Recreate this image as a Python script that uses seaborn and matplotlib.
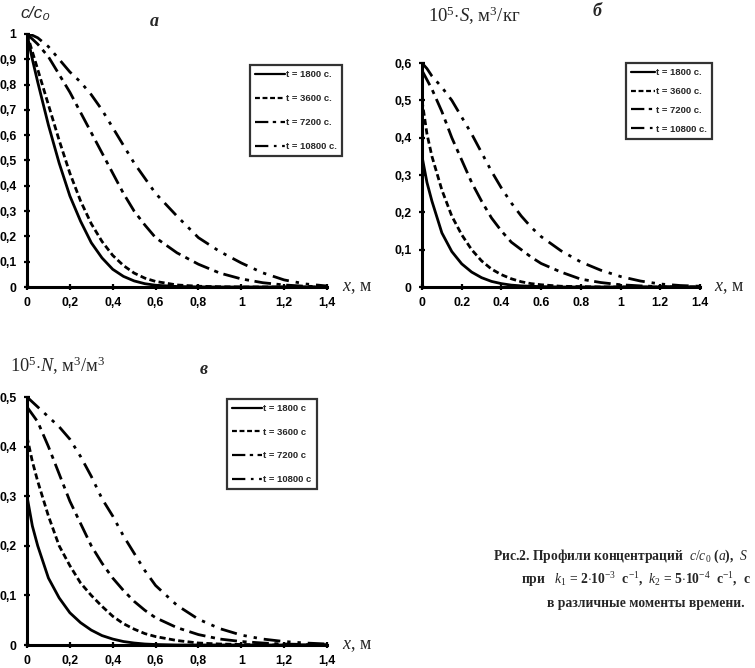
import pandas as pd
import matplotlib
matplotlib.use("Agg")
import matplotlib.pyplot as plt
import seaborn as sns

# общая сетка по x, м
x_grid = [0, 0.025, 0.05, 0.1, 0.15, 0.2, 0.25, 0.3, 0.35, 0.4, 0.45, 0.5, 0.55,
          0.6, 0.7, 0.8, 0.9, 1.0, 1.1, 1.2, 1.3, 1.4]
times = [1800, 3600, 7200, 10800]

# (а) c/c0
a_1800 = [1.0, 0.90, 0.81, 0.64, 0.49, 0.36, 0.26, 0.175, 0.115, 0.07, 0.042, 0.024, 0.013,
          0.007, 0.002, 0.0005, 0, 0, 0, 0, 0, 0]
a_3600 = [1.0, 0.93, 0.86, 0.72, 0.58, 0.45, 0.34, 0.25, 0.18, 0.125, 0.085, 0.055, 0.035,
          0.022, 0.008, 0.003, 0.001, 0, 0, 0, 0, 0]
a_7200 = [1.0, 0.98, 0.96, 0.91, 0.84, 0.77, 0.69, 0.61, 0.53, 0.45, 0.37, 0.30, 0.245,
          0.195, 0.135, 0.09, 0.055, 0.032, 0.017, 0.008, 0.003, 0.001]
a_10800 = [1.0, 0.995, 0.985, 0.95, 0.90, 0.85, 0.81, 0.76, 0.70, 0.63, 0.56, 0.49, 0.43,
           0.37, 0.28, 0.195, 0.14, 0.095, 0.056, 0.028, 0.012, 0.004]

# (б) 10^5*S
b_1800 = [0.35, 0.28, 0.23, 0.145, 0.095, 0.062, 0.04, 0.025, 0.015, 0.009, 0.005, 0.003,
          0.002, 0.001, 0, 0, 0, 0, 0, 0, 0, 0]
b_3600 = [0.50, 0.41, 0.35, 0.26, 0.19, 0.14, 0.10, 0.07, 0.048, 0.033, 0.022, 0.014,
          0.009, 0.006, 0.002, 0.001, 0, 0, 0, 0, 0, 0]
b_7200 = [0.58, 0.555, 0.53, 0.47, 0.40, 0.34, 0.28, 0.23, 0.185, 0.15, 0.12, 0.10,
          0.08, 0.063, 0.04, 0.021, 0.012, 0.006, 0.003, 0.001, 0, 0]
b_10800 = [0.60, 0.585, 0.565, 0.535, 0.50, 0.455, 0.41, 0.36, 0.31, 0.265, 0.225, 0.19,
           0.16, 0.135, 0.097, 0.067, 0.045, 0.028, 0.016, 0.008, 0.004, 0.002]

# (в) 10^5*N
c_1800 = [0.30, 0.24, 0.20, 0.135, 0.095, 0.065, 0.045, 0.03, 0.019, 0.012, 0.007, 0.004,
          0.002, 0.001, 0, 0, 0, 0, 0, 0, 0, 0]
c_3600 = [0.42, 0.37, 0.33, 0.26, 0.20, 0.16, 0.125, 0.10, 0.078, 0.058, 0.043, 0.032,
          0.023, 0.017, 0.009, 0.004, 0.002, 0.001, 0, 0, 0, 0]
c_7200 = [0.48, 0.465, 0.45, 0.40, 0.345, 0.29, 0.245, 0.20, 0.165, 0.135, 0.11, 0.088,
          0.07, 0.055, 0.035, 0.021, 0.012, 0.007, 0.004, 0.002, 0.001, 0]
c_10800 = [0.50, 0.49, 0.48, 0.46, 0.44, 0.415, 0.38, 0.34, 0.295, 0.26, 0.22, 0.185,
           0.15, 0.12, 0.08, 0.052, 0.033, 0.02, 0.012, 0.007, 0.004, 0.002]

x_ticks = [0, 0.2, 0.4, 0.6, 0.8, 1.0, 1.2, 1.4]
x_labels_comma = ["0", "0,2", "0,4", "0,6", "0,8", "1", "1,2", "1,4"]
x_labels_dot = ["0", "0.2", "0.4", "0.6", "0.8", "1", "1.2", "1.4"]
a_yticks = [0, 0.1, 0.2, 0.3, 0.4, 0.5, 0.6, 0.7, 0.8, 0.9, 1.0]
a_ylabels = ["0", "0,1", "0,2", "0,3", "0,4", "0,5", "0,6", "0,7", "0,8", "0,9", "1"]
b_yticks = [0, 0.1, 0.2, 0.3, 0.4, 0.5, 0.6]
b_ylabels = ["0", "0,1", "0,2", "0,3", "0,4", "0,5", "0,6"]
c_yticks = [0, 0.1, 0.2, 0.3, 0.4, 0.5]
c_ylabels = ["0", "0,1", "0,2", "0,3", "0,4", "0,5"]

sns.set_theme(style="white")
plt.rcParams["font.family"] = ["Liberation Sans", "DejaVu Sans"]
plt.rcParams["mathtext.fontset"] = "custom"
plt.rcParams["mathtext.it"] = "Liberation Serif:italic"
plt.rcParams["mathtext.rm"] = "Liberation Serif"
plt.rcParams["mathtext.bf"] = "Liberation Serif:bold"

dash_map = {1800: "", 3600: (2.2, 1.2), 7200: (6, 2, 1.5, 2), 10800: (6, 2.5, 1.2, 2.5, 1.2, 2.5)}
pal = {t: "black" for t in times}


def make_df(series):
    rows = []
    for t, vals in zip(times, series):
        for xv, yv in zip(x_grid, vals):
            rows.append({"x": xv, "y": yv, "t": t})
    return pd.DataFrame(rows)


def draw_panel(ax, series, ymax, yticks, ylabels, xlabels, legend_labels, leg_pos, leg_spacing,
               handle_len=3.2):
    df = make_df(series)
    sns.lineplot(data=df, x="x", y="y", hue="t", style="t", dashes=dash_map, palette=pal,
                 linewidth=2.0, legend=False, ax=ax, sort=True, estimator=None)
    ax.set_xlim(0, 1.4)
    ax.set_ylim(0, ymax)
    ax.set_xticks(x_ticks)
    ax.set_xticklabels(xlabels)
    ax.set_yticks(yticks)
    ax.set_yticklabels(ylabels)
    ax.set_xlabel("")
    ax.set_ylabel("")
    for s in ["top", "right"]:
        ax.spines[s].set_visible(False)
    for s in ["left", "bottom"]:
        ax.spines[s].set_linewidth(2.2)
        ax.spines[s].set_color("black")
    ax.tick_params(axis="both", direction="inout", length=5, width=1.6, colors="black",
                   labelsize=8.8, pad=5, bottom=True, left=True)
    for lab in ax.get_xticklabels() + ax.get_yticklabels():
        lab.set_fontweight("bold")
    ax.text(1.05, 0.0, r"$x$, м", transform=ax.transAxes, fontsize=13,
            family="Liberation Serif", va="center", ha="left")
    leg = ax.legend(ax.lines, legend_labels, loc="upper left", bbox_to_anchor=leg_pos,
                    bbox_transform=fig.transFigure, frameon=True, fancybox=False,
                    handlelength=handle_len, handletextpad=0.1, borderpad=0.55,
                    labelspacing=leg_spacing, prop={"size": 6.8, "weight": "bold"})
    leg.get_frame().set_edgecolor("black")
    leg.get_frame().set_linewidth(1.6)
    for h in leg.get_lines():
        h.set_linewidth(1.6)


W, H = 755, 668
fig = plt.figure(figsize=(W / 100, H / 100), dpi=100)

ax_a = fig.add_axes([27 / W, 1 - 287 / H, 300 / W, 253 / H])
ax_b = fig.add_axes([422 / W, 1 - 287 / H, 278 / W, 224 / H])
ax_c = fig.add_axes([27 / W, 1 - 645 / H, 300 / W, 248 / H])

draw_panel(ax_a, [a_1800, a_3600, a_7200, a_10800], 1.0, a_yticks, a_ylabels, x_labels_comma,
           ["t = 1800 с.", "t = 3600 с.", "t = 7200 с.", "t = 10800 с."],
           (245 / W, 1 - 60 / H), 1.6)
draw_panel(ax_b, [b_1800, b_3600, b_7200, b_10800], 0.6, b_yticks, b_ylabels, x_labels_dot,
           ["t = 1800 с.", "t = 3600 с.", "t = 7200 с.", "t = 10800 с."],
           (621 / W, 1 - 58 / H), 1.05, handle_len=2.6)
draw_panel(ax_c, [c_1800, c_3600, c_7200, c_10800], 0.5, c_yticks, c_ylabels, x_labels_comma,
           ["t = 1800 с", "t = 3600 с", "t = 7200 с", "t = 10800 с"],
           (222 / W, 1 - 394 / H), 1.55)

# подписи осей и панелей
fig.text(20 / W, 1 - 14 / H, "c/c₀", fontsize=12.5, style="italic",
         family=["Liberation Sans", "DejaVu Sans"], va="center")
fig.text(150 / W, 1 - 22 / H, "a", fontsize=13, style="italic", weight="bold",
         family="Liberation Serif", va="center")
fig.text(428 / W, 1 - 16 / H, r"10$^5$$\cdot$$S$, м$^3$/кг", fontsize=13.5,
         family="Liberation Serif", va="center")
fig.text(593 / W, 1 - 12 / H, "б", fontsize=13, style="italic", weight="bold",
         family="Liberation Serif", va="center")
fig.text(10 / W, 1 - 366 / H, r"10$^5$$\cdot$$N$, м$^3$/м$^3$", fontsize=13.2,
         family="Liberation Serif", va="center")
fig.text(200 / W, 1 - 370 / H, "в", fontsize=13, style="italic", weight="bold",
         family="Liberation Serif", va="center")

# подпись рисунка (в оригинале обрезана справа)
cap_kw = dict(fontsize=9.8, family="Liberation Serif", weight="bold", va="center", ha="left")
fig.text(493 / W, 1 - 556 / H, r"Рис.2. Профили концентраций  $c/c_0$ ($a$),  $S$", **cap_kw)
fig.text(521 / W, 1 - 580 / H,
         r"при   $k_1$ = 2$\cdot$10$^{-3}$  с$^{-1}$,  $k_2$ = 5$\cdot$10$^{-4}$  с$^{-1}$,  с", **cap_kw)
fig.text(547 / W, 1 - 604 / H, "в различные моменты времени.", **cap_kw)

fig.savefig("out.png", dpi=100)
